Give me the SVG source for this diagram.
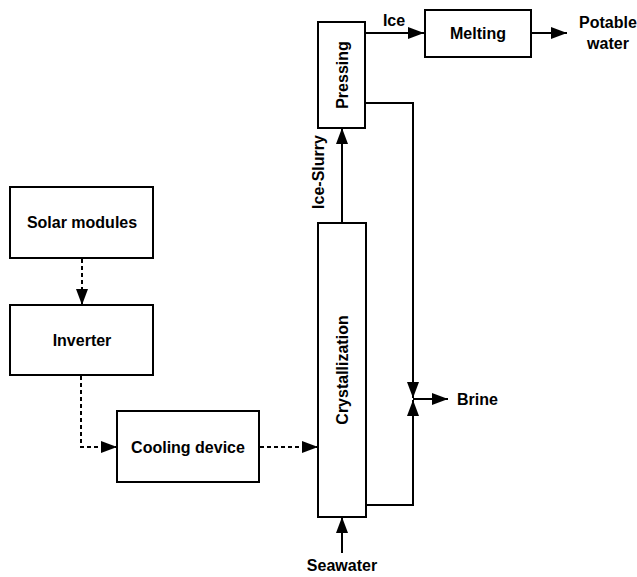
<svg xmlns="http://www.w3.org/2000/svg" width="637" height="577" viewBox="0 0 637 577">
  <style>
    .box { fill: #ffffff; stroke: #000000; stroke-width: 2; }
    .lbl { font-family: "Liberation Sans", Arial, sans-serif; font-weight: bold; font-size: 16px; fill: #000000; }
    .mid { text-anchor: middle; dominant-baseline: central; }
    .solid { fill: none; stroke: #000000; stroke-width: 2; }
    .dash { fill: none; stroke: #000000; stroke-width: 2; stroke-dasharray: 4 3; }
  </style>
  <defs>
    <marker id="arrow" markerUnits="userSpaceOnUse" markerWidth="16" markerHeight="12" refX="16" refY="6" orient="auto">
      <path d="M0,0 L16,6 L0,12 Z" fill="#000000"/>
    </marker>
  </defs>

  <rect x="0" y="0" width="637" height="577" fill="#ffffff"/>

  <!-- connectors -->
  <g id="connectors">
    <line class="dash" x1="82" y1="259" x2="82" y2="305" marker-end="url(#arrow)"/>
    <polyline class="dash" points="81,376 81,447 117,447" marker-end="url(#arrow)"/>
    <line class="dash" x1="260" y1="447" x2="318" y2="447" marker-end="url(#arrow)"/>
    <line class="solid" x1="342" y1="223" x2="342" y2="128" marker-end="url(#arrow)"/>
    <line class="solid" x1="366" y1="33" x2="424" y2="33" marker-end="url(#arrow)"/>
    <line class="solid" x1="532" y1="33" x2="567" y2="33" marker-end="url(#arrow)"/>
    <polyline class="solid" points="366,103 413,103 413,398" marker-end="url(#arrow)"/>
    <polyline class="solid" points="366,505 413,505 413,400" marker-end="url(#arrow)"/>
    <line class="solid" x1="413" y1="399" x2="448" y2="399" marker-end="url(#arrow)"/>
    <line class="solid" x1="342" y1="553" x2="342" y2="517" marker-end="url(#arrow)"/>
    <text class="lbl mid" x="394" y="20">Ice</text>
    <text class="lbl mid" transform="translate(318,172) rotate(-90)">Ice-Slurry</text>
  </g>

  <g id="solar">
    <rect class="box" x="10" y="187" width="143" height="71"/>
    <text class="lbl mid" x="82" y="222">Solar modules</text>
  </g>

  <g id="inverter">
    <rect class="box" x="10" y="305" width="143" height="70"/>
    <text class="lbl mid" x="82" y="340">Inverter</text>
  </g>

  <g id="cooling">
    <rect class="box" x="117" y="411" width="142" height="71"/>
    <text class="lbl mid" x="188" y="447">Cooling device</text>
  </g>

  <g id="crystallization">
    <rect class="box" x="318" y="223" width="48" height="294"/>
    <text class="lbl mid" transform="translate(342,370) rotate(-90)">Crystallization</text>
  </g>

  <g id="pressing">
    <rect class="box" x="318" y="22" width="47" height="106"/>
    <text class="lbl mid" transform="translate(342,75) rotate(-90)">Pressing</text>
  </g>

  <g id="melting">
    <rect class="box" x="425" y="10" width="106" height="47"/>
    <text class="lbl mid" x="478" y="33">Melting</text>
  </g>

  <g id="potable">
    <text class="lbl mid" x="608" y="22">Potable</text>
    <text class="lbl mid" x="608" y="43">water</text>
  </g>

  <g id="brine">
    <text class="lbl" x="457" y="399" dominant-baseline="central">Brine</text>
  </g>

  <g id="seawater">
    <text class="lbl mid" x="342" y="565">Seawater</text>
  </g>
</svg>
